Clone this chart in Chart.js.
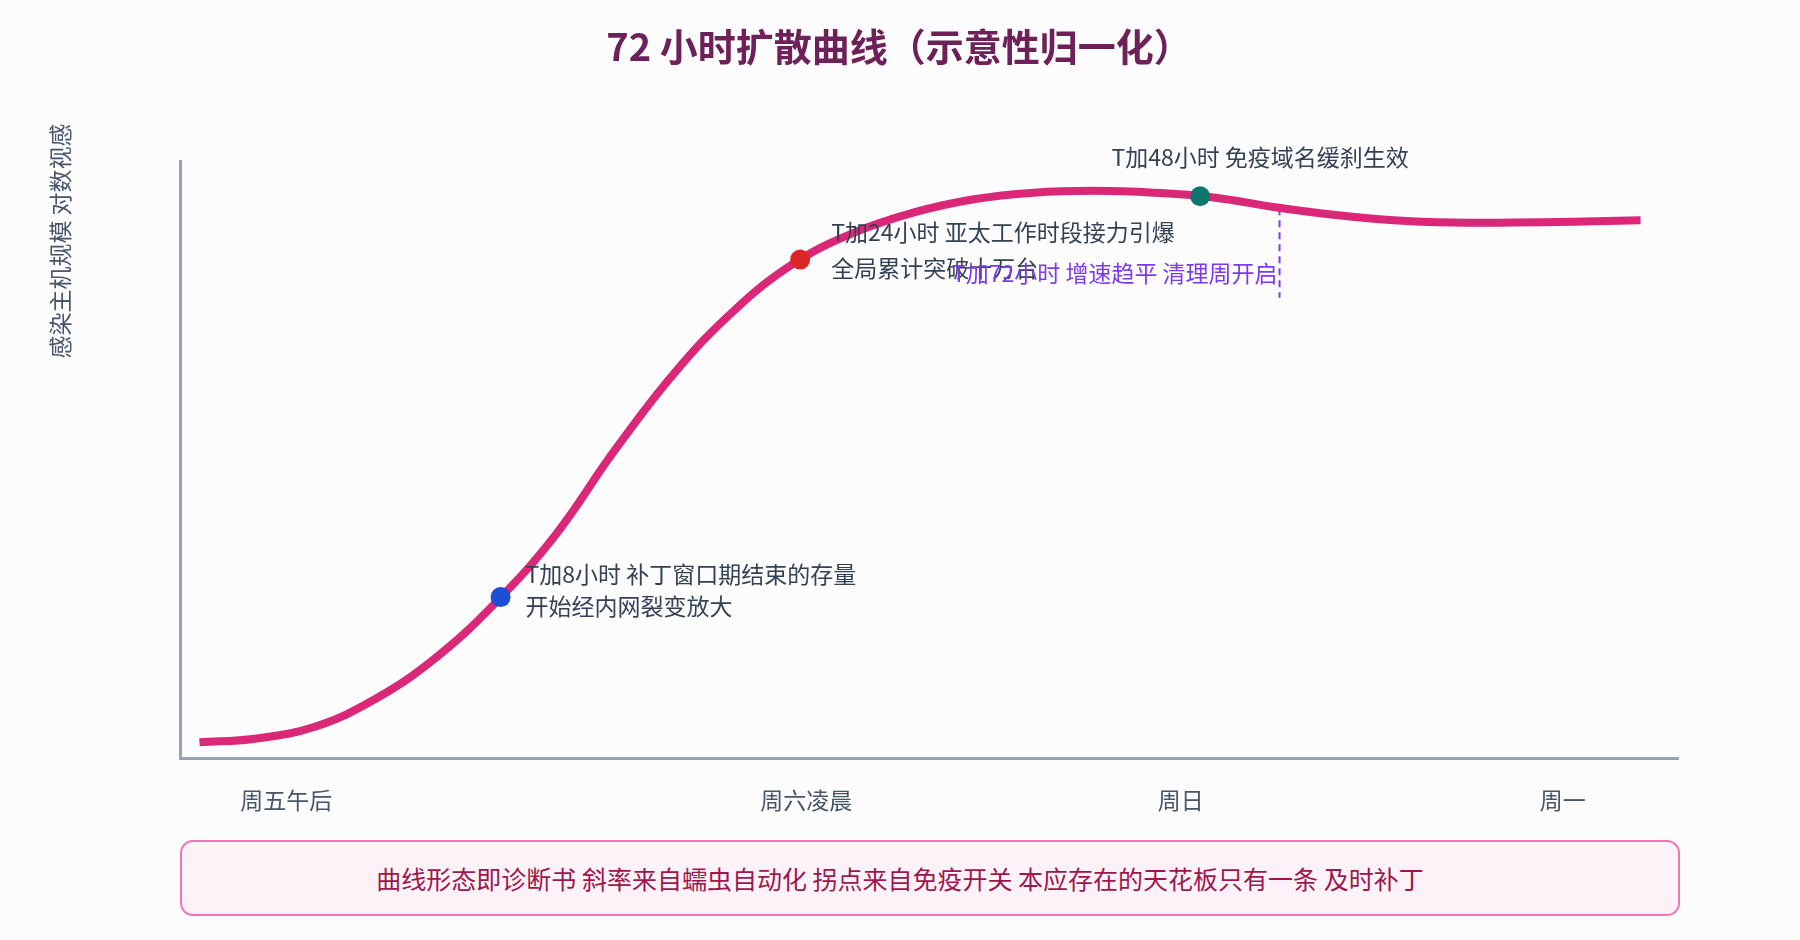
<!DOCTYPE html>
<html lang="zh">
<head>
<meta charset="utf-8">
<title>72 小时扩散曲线</title>
<script src="https://cdn.jsdelivr.net/npm/chart.js@4.4.1/dist/chart.umd.min.js"></script>
<style>
  html, body { margin: 0; padding: 0; background: #fcfcfd; }
  #wrap { position: relative; width: 1800px; height: 940px; }
  #note {
    position: absolute; left: 180px; top: 840px;
    width: 1436px; height: 72px; padding-right: 60px;
    border: 2px solid #f472b6; border-radius: 13px;
    background: #fdf2f8; color: #9d174d;
    font: 25px "Noto Sans CJK SC", "Noto Sans", sans-serif;
    display: flex; align-items: center; justify-content: center;
  }
</style>
</head>
<body>
<div id="wrap">
  <canvas id="spread" width="1800" height="940"></canvas>
  <div id="note">曲线形态即诊断书 斜率来自蠕虫自动化 拐点来自免疫开关 本应存在的天花板只有一条 及时补丁</div>
</div>
<script>
// schematic, normalised: x = progress through the weekend (0-100), y = relative scale (0-100)
var progress = [1.3, 5, 9, 13, 17, 21, 25, 29, 33, 37, 41, 45, 49, 53, 57, 61, 65, 69, 73, 77, 81, 85, 89, 93, 97.5];
var infected = [2.7, 3.3, 5.3, 9.9, 16.7, 25.9, 37.2, 51.5, 64.5, 75.0, 82.9, 88.0, 91.4, 93.6, 94.7, 95.0, 94.7, 93.9, 92.3, 91.0, 90.1, 89.7, 89.7, 89.85, 90.1];

var tickPos = [7.1, 41.8, 66.8, 92.3];
var tickLabels = ['周五午后', '周六凌晨', '周日', '周一'];

var milestoneX = [21.4, 41.4, 68.1];
var milestoneY = [27.0, 83.5, 94.1];
var milestoneColors = ['#1d4ed8', '#dc2626', '#0f766e'];
var milestoneText = [
  ['T加8小时 补丁窗口期结束的存量', '开始经内网裂变放大'],
  ['T加24小时 亚太工作时段接力引爆', '全局累计突破十万台'],
  ['T加48小时 免疫域名缓刹生效']
];

// T+72 marker: dashed drop line below the curve
var plateauX = [73.4, 73.4];
var plateauY = [92.1, 77.1];
var plateauText = 'T加72小时 增速趋平 清理周开启';

var FONT = '"Noto Sans CJK SC", "Noto Sans", sans-serif';

function toPoints(xs, ys) {
  return xs.map(function (x, i) { return { x: x, y: ys[i] }; });
}

const labelPlugin = {
  id: 'labels',
  afterDatasetsDraw(chart) {
    const ctx = chart.ctx;
    const xs = chart.scales.x, ys = chart.scales.y;
    ctx.save();

    // title
    ctx.font = 'bold 38px ' + FONT;
    ctx.fillStyle = '#6e2158';
    ctx.textAlign = 'center';
    ctx.textBaseline = 'middle';
    ctx.fillText('72 小时扩散曲线（示意性归一化）', 899, 47);

    ctx.font = '23px ' + FONT;
    ctx.fillStyle = '#334155';

    // blue: two lines to the right
    let px = xs.getPixelForValue(milestoneX[0]), py = ys.getPixelForValue(milestoneY[0]);
    ctx.textAlign = 'left';
    ctx.fillText(milestoneText[0][0], px + 25, py - 23);
    ctx.fillText(milestoneText[0][1], px + 25, py + 9);

    // red
    px = xs.getPixelForValue(milestoneX[1]); py = ys.getPixelForValue(milestoneY[1]);
    ctx.fillText(milestoneText[1][0], px + 31, py - 27);
    ctx.fillText(milestoneText[1][1], px + 31, py + 9);

    // teal: above
    px = xs.getPixelForValue(milestoneX[2]); py = ys.getPixelForValue(milestoneY[2]);
    ctx.textAlign = 'center';
    ctx.fillText(milestoneText[2][0], px + 60, py - 39);

    // purple, right aligned on the dashed line
    px = xs.getPixelForValue(plateauX[0]); py = ys.getPixelForValue(plateauY[0]);
    ctx.textAlign = 'right';
    ctx.fillStyle = '#7c3aed';
    ctx.fillText(plateauText, px - 2, py + 65);

    // y axis title, rotated
    ctx.translate(60, 241);
    ctx.rotate(-Math.PI / 2);
    ctx.textAlign = 'center';
    ctx.fillStyle = '#475569';
    ctx.fillText('感染主机规模 对数视感', 0, 0);
    ctx.restore();
  }
};

new Chart(document.getElementById('spread'), {
  type: 'line',
  data: {
    datasets: [
      {
        label: 'milestones',
        data: toPoints(milestoneX, milestoneY),
        showLine: false,
        pointRadius: 10,
        pointBorderWidth: 0,
        pointBackgroundColor: milestoneColors
      },
      {
        label: 'spread',
        data: toPoints(progress, infected),
        borderColor: '#db2777',
        borderWidth: 8,
        borderCapStyle: 'butt',
        tension: 0.4,
        pointRadius: 0,
        fill: false
      },
      {
        label: 'plateau',
        data: toPoints(plateauX, plateauY),
        borderColor: '#7c3aed',
        borderWidth: 2,
        borderDash: [7, 5],
        pointRadius: 0,
        fill: false
      }
    ]
  },
  options: {
    responsive: false,
    animation: false,
    devicePixelRatio: 1,
    layout: { padding: { left: 180, right: 122, top: 161, bottom: 98 } },
    scales: {
      x: {
        type: 'linear',
        min: 0,
        max: 100,
        grid: { display: false, drawTicks: false },
        border: { display: true, color: '#94a3b8', width: 3 },
        afterBuildTicks: function (scale) {
          scale.ticks = tickPos.map(function (v) { return { value: v }; });
        },
        ticks: {
          padding: 28,
          color: '#475569',
          font: { family: FONT, size: 23 },
          maxRotation: 0,
          autoSkip: false,
          callback: function (v, i) { return tickLabels[i]; }
        }
      },
      y: {
        min: 0,
        max: 100,
        grid: { display: false, drawTicks: false },
        border: { display: true, color: '#94a3b8', width: 3 },
        ticks: { display: false },
        afterFit: function (scale) { scale.width = 0; }
      }
    },
    plugins: {
      legend: { display: false },
      tooltip: { enabled: false },
      title: { display: false }
    }
  },
  plugins: [labelPlugin]
});
</script>
</body>
</html>
